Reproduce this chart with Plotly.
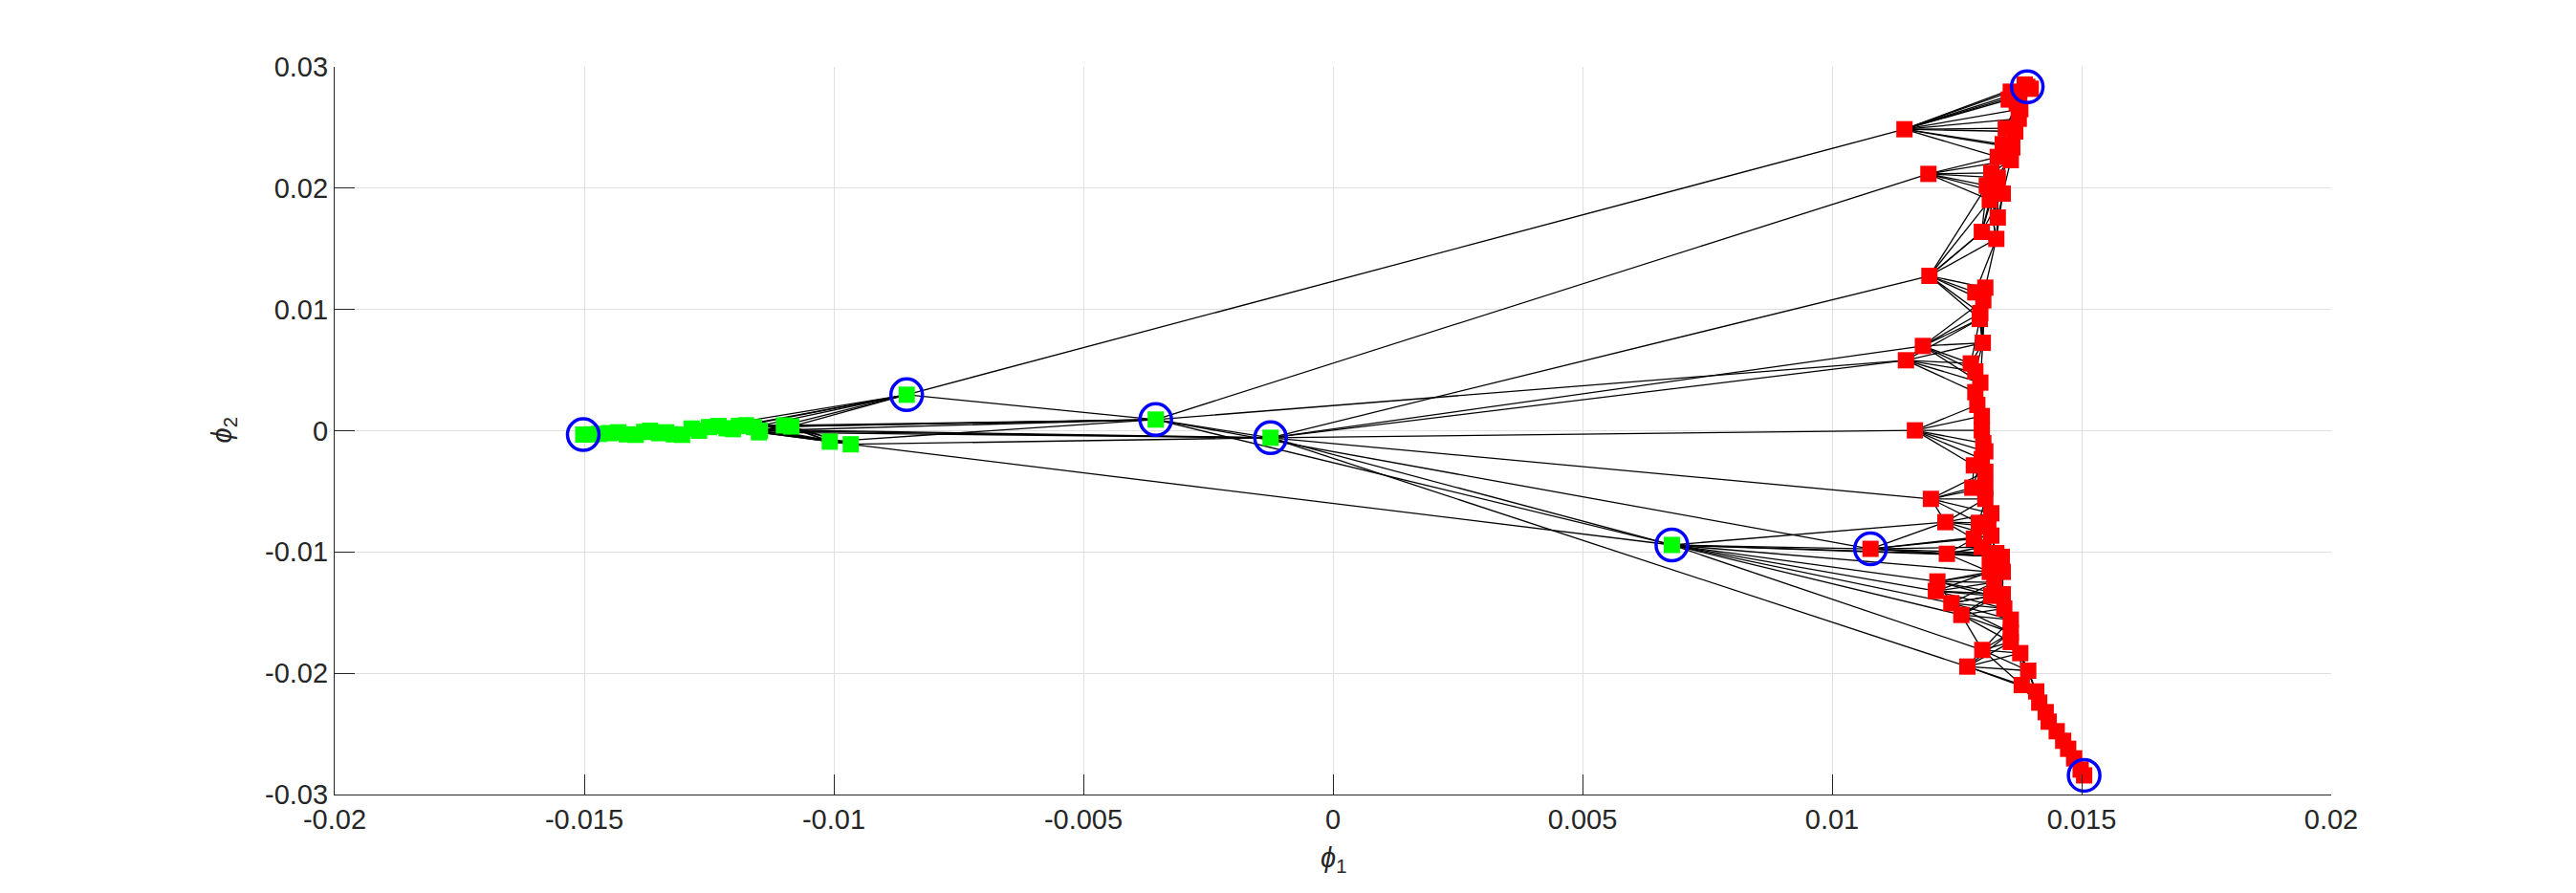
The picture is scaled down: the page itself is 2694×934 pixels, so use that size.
import numpy as np
import plotly.graph_objects as go

# ---------------- data ----------------
green_phi1 = [-0.01502, -0.01485, -0.01470, -0.01450, -0.01432, -0.01415, -0.01397, -0.01380,
              -0.01368, -0.01350, -0.01336, -0.01320, -0.01304, -0.01285, -0.01270, -0.01250,
              -0.01231, -0.01215, -0.01202, -0.01190, -0.01176, -0.01160, -0.01148, -0.01150,
              -0.01100, -0.01085, -0.01008, -0.00966, -0.00854, -0.00355, -0.00125, 0.00679]
green_phi2 = [-0.00032, -0.00030, -0.00026, -0.00020, -0.00013, -0.00030, -0.00034, -0.00010,
              0.00000, -0.00020, -0.00013, -0.00030, -0.00034, 0.00018, 0.00000, 0.00030,
              0.00039, 0.00020, 0.00013, 0.00040, 0.00045, 0.00030, 0.00000, -0.00013,
              0.00044, 0.00035, -0.00090, -0.00112, 0.00297, 0.00092, -0.00058, -0.00942]

red_phi1 = [0.01391, 0.01386, 0.01398, 0.01358, 0.01375, 0.01354, 0.01370, 0.01377, 0.01374, 0.01348,
            0.01367, 0.01342, 0.01361, 0.01332, 0.01358, 0.01319, 0.01332, 0.01310, 0.01342, 0.01316,
            0.01332, 0.01300, 0.01329, 0.01307, 0.01287, 0.01303, 0.01297, 0.01296, 0.01302, 0.01278,
            0.01287, 0.01297, 0.01287, 0.01291, 0.01300, 0.01300, 0.01303, 0.01307, 0.01300, 0.01284,
            0.01307, 0.01281, 0.01307, 0.01307, 0.01319, 0.01294, 0.01313, 0.01284, 0.01319, 0.01300,
            0.01329, 0.01316, 0.01340, 0.01316, 0.01342, 0.01325, 0.01319, 0.01342, 0.01345, 0.01358,
            0.01358, 0.01358, 0.01377, 0.01393, 0.01380, 0.01409, 0.01415, 0.01428, 0.01434, 0.01450,
            0.01463, 0.01473, 0.01485, 0.01498, 0.01505,
            0.01145, 0.01193, 0.01195, 0.01182, 0.01148, 0.01166, 0.01198, 0.01227, 0.01077, 0.01230,
            0.01211, 0.01208, 0.01239, 0.01259, 0.01301, 0.01271]
red_phi2 = [0.02836, 0.02855, 0.02820, 0.02796, 0.02770, 0.02731, 0.02700, 0.02652, 0.02573, 0.02494,
            0.02468, 0.02363, 0.02336, 0.02258, 0.02231, 0.02126, 0.02087, 0.02021, 0.01955, 0.01903,
            0.01758, 0.01640, 0.01582, 0.01180, 0.01141, 0.01075, 0.00970, 0.00922, 0.00725, 0.00555,
            0.00489, 0.00397, 0.00318, 0.00213, 0.00121, 0.00003, -0.00103, -0.00170, -0.00234, -0.00286,
            -0.00339, -0.00470, -0.00470, -0.00562, -0.00681, -0.00760, -0.00790, -0.00891, -0.00865, -0.00960,
            -0.01009, -0.01033, -0.01040, -0.01164, -0.01164, -0.01250, -0.01361, -0.01348, -0.01466, -0.01558,
            -0.01664, -0.01742, -0.01834, -0.01979, -0.02097, -0.02150, -0.02242, -0.02321, -0.02399, -0.02478,
            -0.02557, -0.02623, -0.02702, -0.02794, -0.02842,
            0.02486, 0.02118, 0.01277, 0.00699, 0.00581, 0.00003, -0.00562, -0.00754, -0.00974, -0.01015,
            -0.01243, -0.01322, -0.01422, -0.01519, -0.01808, -0.01945]

# highlighted (circled) nodes
landmarks = ["g0", "g28", "g29", "g30", "g31", "r0", "r74", "r83"]

# long links between nodes
cross_links = [
    "g28 g15", "g28 g19", "g28 g20", "g28 g21", "g28 g24", "g28 g25",
    "g29 g21", "g29 g22", "g29 g24", "g29 g25", "g29 g26",
    "g30 g18", "g30 g22", "g30 g23", "g30 g27",
    "g27 g31", "g28 g29", "g28 r75",
    "g29 r76", "g29 r79", "g29 g30", "g29 g31", "g29 r83",
    "g30 r77", "g30 r78", "g30 r79", "g30 r80", "g30 r81", "g30 g31", "g30 r90",
    "g31 r83", "g31 r82", "g31 r84", "g31 r53", "g31 r85", "g31 r86", "g31 r87",
    "g31 r88", "g31 r89", "g31 r51",
    "r75 r1", "r75 r2", "r75 r3", "r75 r4", "r75 r5",
    "r77 r17", "r77 r19", "r77 r21",
]

x_ticks = [-0.02, -0.015, -0.01, -0.005, 0, 0.005, 0.01, 0.015, 0.02]
x_labels = ["-0.02", "-0.015", "-0.01", "-0.005", "0", "0.005", "0.01", "0.015", "0.02"]
y_ticks = [-0.03, -0.02, -0.01, 0, 0.01, 0.02, 0.03]
y_labels = ["-0.03", "-0.02", "-0.01", "0", "0.01", "0.02", "0.03"]

# ---------------- graph construction ----------------
def node(name):
    i = int(name[1:])
    if name[0] == "g":
        return green_phi1[i], green_phi2[i]
    return red_phi1[i], red_phi2[i]


def knn_pairs(xs, ys, idx, k):
    pts = np.column_stack([np.asarray(xs)[idx], np.asarray(ys)[idx]])
    d = np.sqrt(((pts[:, None, :] - pts[None, :, :]) ** 2).sum(-1))
    pairs = set()
    for a in range(len(idx)):
        order = np.argsort(d[a])
        for b in order[1:k + 1]:
            pairs.add((min(idx[a], idx[b]), max(idx[a], idx[b])))
    return pairs


links = []
for a, b in knn_pairs(green_phi1, green_phi2, list(range(28)), 6):
    links.append(("g%d" % a, "g%d" % b))
for a, b in knn_pairs(red_phi1, red_phi2, list(range(len(red_phi1))), 7):
    links.append(("r%d" % a, "r%d" % b))
for s in cross_links:
    a, b = s.split()
    links.append((a, b))

ex, ey = [], []
for a, b in links:
    xa, ya = node(a)
    xb, yb = node(b)
    ex += [xa, xb, None]
    ey += [ya, yb, None]

lx = [node(n)[0] for n in landmarks]
ly = [node(n)[1] for n in landmarks]

# ---------------- figure ----------------
fig = go.Figure()
fig.add_trace(go.Scatter(x=ex, y=ey, mode="lines",
                         line=dict(color="black", width=1.3), hoverinfo="skip"))
fig.add_trace(go.Scatter(x=green_phi1, y=green_phi2, mode="markers",
                         marker=dict(symbol="square", size=17, color="#00ff00", line=dict(width=0))))
fig.add_trace(go.Scatter(x=red_phi1, y=red_phi2, mode="markers",
                         marker=dict(symbol="square", size=17, color="#ff0000", line=dict(width=0))))
fig.add_trace(go.Scatter(x=lx, y=ly, mode="markers",
                         marker=dict(symbol="circle-open", size=33, color="#0000ff",
                                     line=dict(width=3.5, color="#0000ff"))))

font = dict(family="Liberation Sans, Arial, Helvetica, sans-serif", size=29, color="#262626")
axis_common = dict(ticks="inside", ticklen=21, tickwidth=1.2, tickcolor="#262626",
                   showline=True, linecolor="#262626", linewidth=1.2, mirror=False,
                   showgrid=True, gridcolor="#dfdfdf", gridwidth=1, zeroline=False,
                   tickfont=font)

fig.update_layout(
    width=2694, height=934,
    margin=dict(l=350, r=256, t=70, b=103),
    paper_bgcolor="white", plot_bgcolor="white",
    showlegend=False,
    xaxis=dict(range=[-0.02, 0.02], tickvals=x_ticks, ticktext=x_labels, **axis_common),
    yaxis=dict(range=[-0.03, 0.03], tickvals=y_ticks, ticktext=y_labels, **axis_common),
    annotations=[
        dict(text="<i>ϕ</i><sub>1</sub>", xref="paper", yref="paper", x=0.5, y=0,
             yshift=-68, xanchor="center", yanchor="middle", showarrow=False,
             font=dict(family="Liberation Sans, DejaVu Sans", size=29, color="#262626")),
        dict(text="<i>ϕ</i><sub>2</sub>", xref="paper", yref="paper", x=0, y=0.5,
             xshift=-117, xanchor="center", yanchor="middle", showarrow=False, textangle=-90,
             font=dict(family="Liberation Sans, DejaVu Sans", size=29, color="#262626")),
    ],
)

fig.write_html("out.html", config={"displayModeBar": False},
               post_script="document.body.style.margin='0';document.body.style.overflow='hidden';")
